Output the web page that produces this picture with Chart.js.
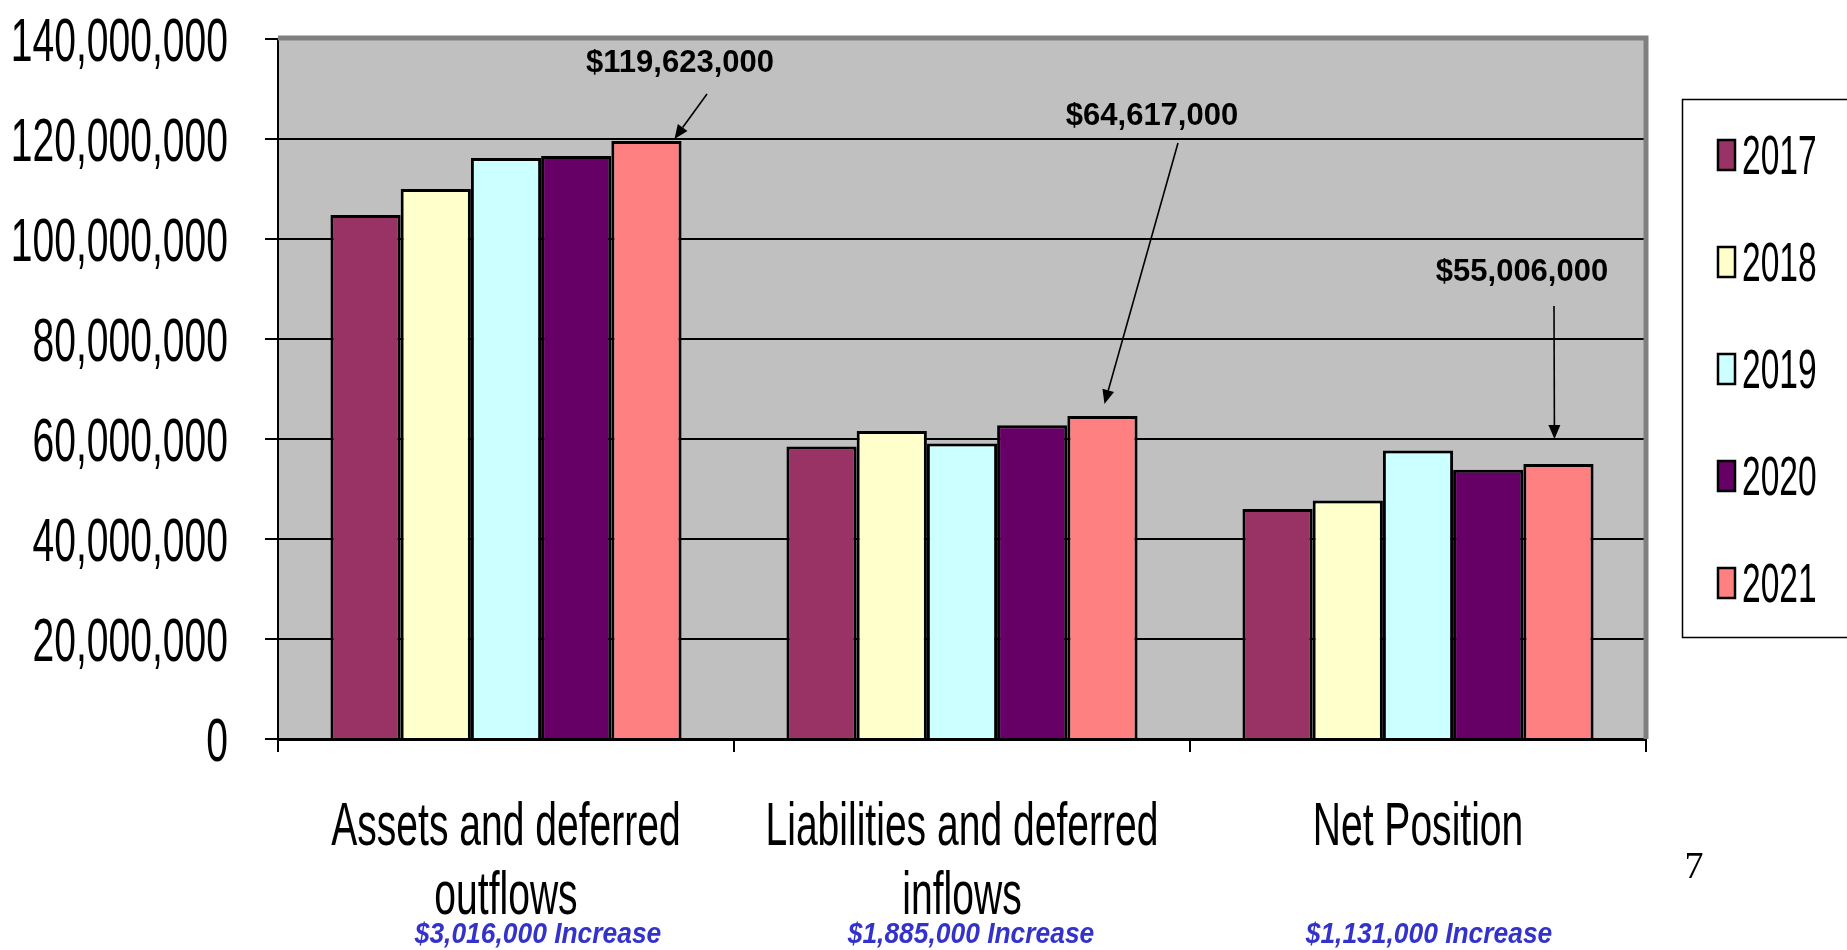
<!DOCTYPE html>
<html>
<head>
<meta charset="utf-8">
<script src="https://cdn.jsdelivr.net/npm/chart.js@4.4.1/dist/chart.umd.min.js"></script>
<style>
  html, body { margin: 0; padding: 0; background: #fff; }
  canvas { display: block; }
</style>
</head>
<body>
<canvas id="chart" width="1847" height="950"></canvas>
<script>
// categories / series
const categories = [
  ['Assets and deferred', 'outflows'],
  ['Liabilities and deferred', 'inflows'],
  ['Net Position']
];
const years = ['2017', '2018', '2019', '2020', '2021'];
const values2017 = [104800000, 58500000, 46000000];
const values2018 = [110000000, 61600000, 47700000];
const values2019 = [116200000, 59100000, 57700000];
const values2020 = [116607000, 62732000, 53875000];
const values2021 = [119623000, 64617000, 55006000];
const yTicks = [0, 20000000, 40000000, 60000000, 80000000, 100000000, 120000000, 140000000];
const pageNumber = '7';

const colors = ['#993366', '#FFFFCC', '#CCFFFF', '#660066', '#FF8080'];
const series = [values2017, values2018, values2019, values2020, values2021];

const fmt = v => v.toLocaleString('en-US');
const SANS = '"Liberation Sans", Arial, sans-serif';

// draws horizontally squeezed text like the original slide
function squeezed(ctx, text, x, y, font, sx, align, color) {
  ctx.save();
  ctx.font = font;
  ctx.fillStyle = color || '#000';
  ctx.textAlign = align || 'left';
  ctx.textBaseline = 'alphabetic';
  ctx.translate(x, y);
  ctx.scale(sx, 1);
  ctx.fillText(text, 0, 0);
  ctx.restore();
}

function arrow(ctx, x1, y1, x2, y2) {
  const ang = Math.atan2(y2 - y1, x2 - x1);
  const len = 14, half = 6;
  ctx.save();
  ctx.strokeStyle = '#000';
  ctx.fillStyle = '#000';
  ctx.lineWidth = 1.6;
  ctx.beginPath();
  ctx.moveTo(x1, y1);
  ctx.lineTo(x2 - Math.cos(ang) * len, y2 - Math.sin(ang) * len);
  ctx.stroke();
  ctx.beginPath();
  ctx.moveTo(x2, y2);
  ctx.lineTo(x2 - Math.cos(ang) * len - Math.sin(ang) * half, y2 - Math.sin(ang) * len + Math.cos(ang) * half);
  ctx.lineTo(x2 - Math.cos(ang) * len + Math.sin(ang) * half, y2 - Math.sin(ang) * len - Math.cos(ang) * half);
  ctx.closePath();
  ctx.fill();
  ctx.restore();
}

const slidePlugin = {
  id: 'slide',
  beforeDraw(chart) {
    const { ctx, chartArea: a } = chart;
    ctx.save();
    ctx.fillStyle = '#C0C0C0';
    ctx.fillRect(a.left, a.top, a.right - a.left, a.bottom - a.top);
    ctx.restore();
  },
  afterDraw(chart) {
    const { ctx, chartArea: a } = chart;
    const xs = chart.scales.x, ys = chart.scales.y;

    // gray frame top/right
    ctx.save();
    ctx.strokeStyle = '#808080';
    ctx.lineWidth = 5;
    ctx.beginPath();
    ctx.moveTo(a.left, a.top - 1);
    ctx.lineTo(a.right, a.top - 1);
    ctx.lineTo(a.right, a.bottom);
    ctx.stroke();
    ctx.restore();

    // y tick labels
    yTicks.forEach(v => {
      squeezed(ctx, fmt(v), 228, ys.getPixelForValue(v) + 22, '62px ' + SANS, 0.63, 'right');
    });

    // category labels
    categories.forEach((lines, i) => {
      const cx = xs.getPixelForValue(i);
      lines.forEach((t, j) => {
        squeezed(ctx, t, cx, 845 + j * 69, '62px ' + SANS, 0.63, 'center');
      });
    });

    // increase notes under categories (2021 minus 2020)
    const noteDx = [32, 9, 11];
    categories.forEach((_, i) => {
      const inc = values2021[i] - values2020[i];
      squeezed(ctx, '$' + fmt(inc) + ' Increase', xs.getPixelForValue(i) + noteDx[i], 943,
        'italic bold 30px ' + SANS, 0.88, 'center', '#3333CC');
    });

    // 2021 value call-outs with arrows
    const meta = chart.getDatasetMeta(4);
    const callouts = [
      { tx: 680, ty: 72, size: 31, from: [707, 94], dx: 28, dy: -2 },
      { tx: 1152, ty: 125, size: 31, from: [1178, 143], dx: 2, dy: -12 },
      { tx: 1522, ty: 281, size: 31, from: [1554, 306], dx: -4, dy: -25 }
    ];
    callouts.forEach((c, i) => {
      const bar = meta.data[i];
      squeezed(ctx, '$' + fmt(values2021[i]), c.tx, c.ty, 'bold ' + c.size + 'px ' + SANS, 1, 'center');
      arrow(ctx, c.from[0], c.from[1], bar.x + c.dx, bar.y + c.dy);
    });

    // legend box
    ctx.save();
    ctx.strokeStyle = '#000';
    ctx.lineWidth = 1.5;
    ctx.strokeRect(1682.5, 99.5, 200, 538);
    chart.data.datasets.forEach((ds, i) => {
      const cy = 155 + i * 107;
      ctx.fillStyle = ds.backgroundColor;
      ctx.fillRect(1718, cy - 15, 17, 30);
      ctx.lineWidth = 2.5;
      ctx.strokeRect(1718, cy - 15, 17, 30);
      squeezed(ctx, ds.label, 1742, cy + 19, '55px ' + SANS, 0.61, 'left');
    });
    ctx.restore();

    // page number
    ctx.save();
    ctx.font = '38px "Liberation Serif", "Times New Roman", serif';
    ctx.fillStyle = '#000';
    ctx.textAlign = 'center';
    ctx.fillText(pageNumber, 1694, 878);
    ctx.restore();
  }
};

new Chart(document.getElementById('chart'), {
  type: 'bar',
  data: {
    labels: categories,
    datasets: years.map((y, i) => ({
      label: y,
      data: series[i],
      backgroundColor: colors[i],
      borderColor: '#000',
      borderWidth: 3,
      categoryPercentage: 0.77,
      barPercentage: 1.0
    }))
  },
  options: {
    responsive: false,
    animation: false,
    layout: { padding: { top: 39, right: 201, left: 0, bottom: 0 } },
    plugins: {
      legend: { display: false },
      tooltip: { enabled: false }
    },
    scales: {
      x: {
        grid: { offset: true, drawOnChartArea: false, color: '#000', lineWidth: 2, tickLength: 13 },
        border: { color: '#000', width: 3 },
        ticks: { display: false },
        afterFit: s => { s.height = 211; }
      },
      y: {
        min: 0,
        max: 140000000,
        ticks: { display: false, stepSize: 20000000 },
        grid: { color: '#000', lineWidth: 2, tickLength: 13 },
        border: { color: '#000', width: 2 },
        afterFit: s => { s.width = 278; }
      }
    }
  },
  plugins: [slidePlugin]
});
</script>
</body>
</html>
